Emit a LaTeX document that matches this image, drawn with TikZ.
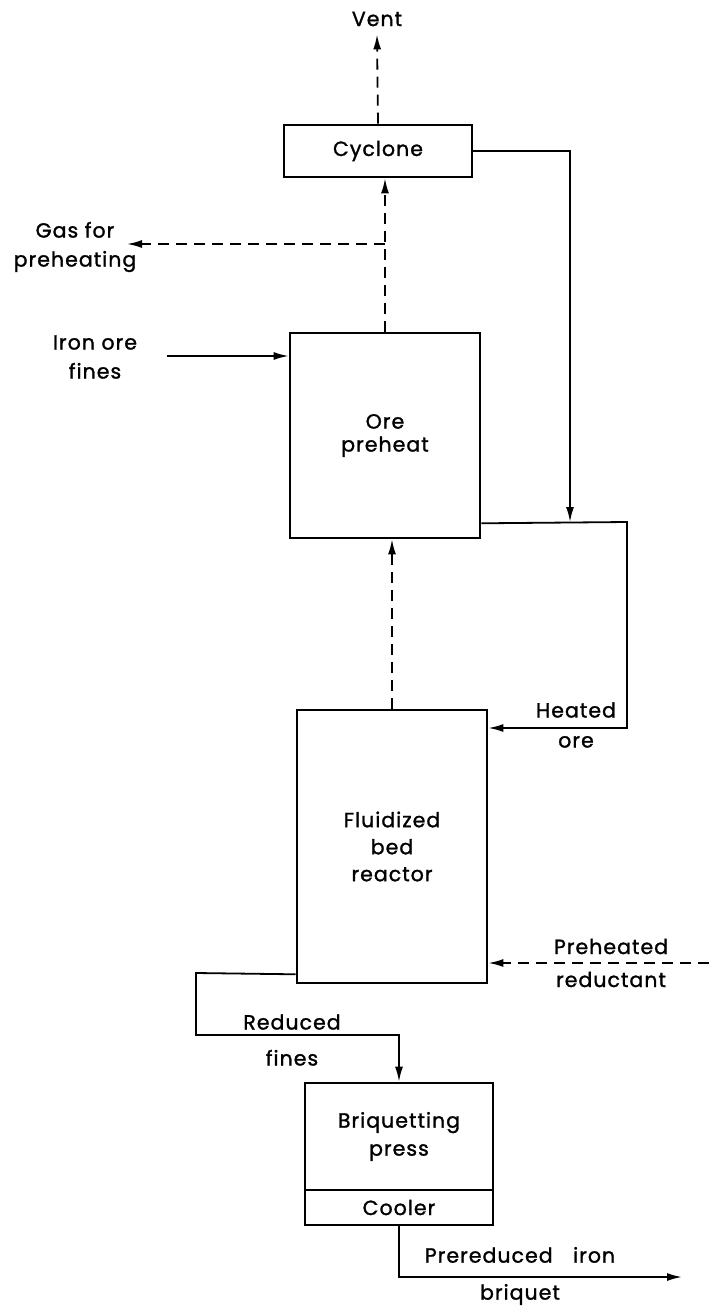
\documentclass[tikz,border=0pt]{standalone}
\usepackage{fontspec}
\setmainfont{Poppins}[LetterSpace=5.0, FakeBold=1.3]
\usetikzlibrary{arrows.meta}
\begin{document}
\begin{tikzpicture}[x=1pt,y=-1pt,
  every node/.style={font=\fontsize{20.5}{23}\selectfont},
  box/.style={draw, line width=2.6pt, inner sep=0pt, align=center},
  lbl/.style={inner sep=0pt, align=center},
  flow/.style={line width=1.8pt, -{Latex[length=15pt,width=8pt]}},
  gas/.style={flow, dash pattern=on 11pt off 7pt}]
\useasboundingbox (0,0) rectangle (709,1309);
% process units
\node[box, minimum width=188pt, minimum height=52pt] (cyc) at (378,151) {Cyclone};
\node[box, minimum width=190pt, minimum height=205pt] (ore) at (385,435.5) {Ore\\preheat};
\node[box, minimum width=190pt, minimum height=273pt] (rx) at (392,846.5) {Fluidized\\[4pt]bed\\[4pt]reactor};
\node[box, minimum width=188pt, minimum height=107pt] (press) at (399,1136.5) {Briquetting\\[5pt]press};
\node[box, minimum width=188pt, minimum height=35pt] (cool) at (399,1207.5) {Cooler};
% labels
\node[lbl] (vent) at (377,19) {Vent};
\node[lbl] (gasl) at (75,247) {Gas for\\[6pt]preheating};
\node[lbl] (iof) at (95,357) {Iron ore\\[6pt]fines};
\node[lbl] (heat) at (576,725) {Heated\\[7pt]ore};
\node[lbl] (prl) at (611,963) {Preheated\\[10pt]reductant};
\node[lbl] (rfl) at (292,1040) {Reduced\\[13pt]fines};
\node[lbl] (outl) at (520,1276) {Prereduced\quad iron\\[14pt]briquet};
% helper coordinates
\coordinate (gj) at (385,244);
\coordinate (gtip) at (127,244);
\coordinate (iofs) at (167,356);
\coordinate (cj) at (570,522);
\coordinate (hc1) at (627,522);
\coordinate (hc2) at (627,728);
\coordinate (prs) at (709,963);
\coordinate (rf1) at (196,973);
\coordinate (rf2) at (196,1035);
\coordinate (rf3) at (399,1035);
\coordinate (outp) at (682,1277);
% connectors
\draw[gas] (cyc.north) -- ([yshift=-8pt]vent.south);
\draw[gas] (ore.north) -- (ore.north |- cyc.south);
\draw[gas] (gj) -- (gtip);
\draw[flow] (iofs) -- (iofs -| ore.west);
\draw[flow] (cyc.east) -| (cj);
\draw[flow] ([yshift=16pt]ore.south east) -- (hc1) -- (hc2) -- (hc2 -| rx.east);
\draw[gas] (rx.north) -- (rx.north |- ore.south);
\draw[gas] (prs) -- (prs -| rx.east);
\draw[flow] ([yshift=10pt]rx.south west) -- (rf1) -- (rf2) -- (rf3) -- (press.north);
\draw[flow] (cool.south) -- (cool.south |- outp) -- (outp);
\end{tikzpicture}
\end{document}
